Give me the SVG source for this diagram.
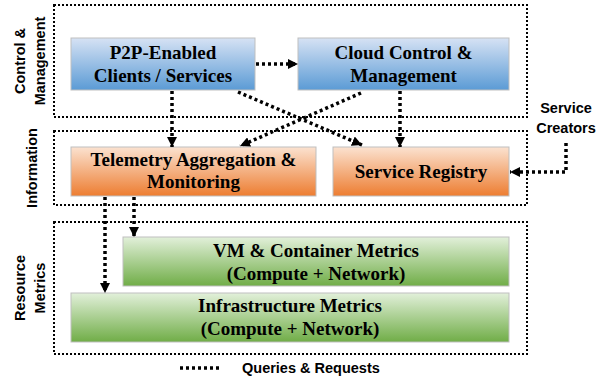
<svg xmlns="http://www.w3.org/2000/svg" width="606" height="380" viewBox="0 0 606 380">
<style>
.grp{fill:none;stroke:#000;stroke-width:2;stroke-dasharray:2 2}
.node{stroke:#bfbfbf;stroke-width:1}
.nt{font-weight:bold;font-size:19px;fill:#000;text-anchor:middle}
.lbl{font-family:"Liberation Sans",Arial,sans-serif;font-weight:bold;font-size:14.5px;fill:#000;text-anchor:middle}
.con{fill:none;stroke:#000;stroke-width:3.5;stroke-dasharray:3 3}
</style>
<defs>
<linearGradient id="gb" x1="0" y1="0" x2="0" y2="1"><stop offset="0" stop-color="#d6e2f4"/><stop offset="1" stop-color="#5b9bd5"/></linearGradient>
<linearGradient id="go" x1="0" y1="0" x2="0" y2="1"><stop offset="0" stop-color="#fbe2d0"/><stop offset="1" stop-color="#ed7d31"/></linearGradient>
<linearGradient id="gg" x1="0" y1="0" x2="0" y2="1"><stop offset="0" stop-color="#e2f0da"/><stop offset="1" stop-color="#70ad47"/></linearGradient>
<marker id="ah" viewBox="0 0 10 10" refX="10" refY="5" markerWidth="10" markerHeight="10" markerUnits="userSpaceOnUse" orient="auto"><path d="M0,0 L10,5 L0,10 z" fill="#000"/></marker>
</defs>

<g id="groups">
<rect class="grp" x="54" y="5" width="473" height="112"/>
<rect class="grp" x="54" y="131" width="473" height="74"/>
<rect class="grp" x="54" y="222" width="473" height="132"/>
<text class="lbl" transform="translate(25,61) rotate(-90)">Control &amp;</text>
<text class="lbl" transform="translate(45,61) rotate(-90)">Management</text>
<text class="lbl" transform="translate(37,168) rotate(-90)">Information</text>
<text class="lbl" transform="translate(25,288) rotate(-90)">Resource</text>
<text class="lbl" transform="translate(45,288) rotate(-90)">Metrics</text>
</g>

<g font-family="Liberation Serif, Times New Roman, serif">
<g id="p2p">
<rect class="node" x="71" y="38" width="184" height="52" fill="url(#gb)"/>
<text class="nt" x="163" y="59">P2P-Enabled</text>
<text class="nt" x="163" y="82">Clients / Services</text>
</g>
<g id="cloud">
<rect class="node" x="298" y="38" width="211" height="52" fill="url(#gb)"/>
<text class="nt" x="403.5" y="59">Cloud Control &amp;</text>
<text class="nt" x="403.5" y="82">Management</text>
</g>
<g id="telemetry">
<rect class="node" x="71" y="147" width="245" height="49" fill="url(#go)"/>
<text class="nt" x="193.5" y="166">Telemetry Aggregation &amp;</text>
<text class="nt" x="193.5" y="188">Monitoring</text>
</g>
<g id="registry">
<rect class="node" x="333" y="147" width="176" height="49" fill="url(#go)"/>
<text class="nt" x="421" y="178">Service Registry</text>
</g>
<g id="vm">
<rect class="node" x="123" y="237" width="386" height="49" fill="url(#gg)"/>
<text class="nt" x="316" y="257">VM &amp; Container Metrics</text>
<text class="nt" x="316" y="280">(Compute + Network)</text>
</g>
<g id="infra">
<rect class="node" x="71" y="293" width="438" height="49" fill="url(#gg)"/>
<text class="nt" x="290" y="312">Infrastructure Metrics</text>
<text class="nt" x="290" y="335">(Compute + Network)</text>
</g>
</g>
<g id="creators">
<text class="lbl" x="566" y="113">Service</text>
<text class="lbl" x="566" y="133">Creators</text>
</g>

<g id="connectors">
<line class="con" x1="256" y1="64" x2="298" y2="64" marker-end="url(#ah)"/>
<line class="con" x1="172" y1="91" x2="172" y2="147" marker-end="url(#ah)"/>
<line class="con" x1="238" y1="92" x2="362" y2="145" marker-end="url(#ah)"/>
<line class="con" x1="361" y1="93" x2="240" y2="146" marker-end="url(#ah)"/>
<line class="con" x1="400" y1="91" x2="400" y2="147" marker-end="url(#ah)"/>
<polyline class="con" points="566,143 566,172 510,172" marker-end="url(#ah)"/>
<line class="con" x1="105" y1="197" x2="105" y2="293" marker-end="url(#ah)"/>
<line class="con" x1="134" y1="197" x2="134" y2="237" marker-end="url(#ah)"/>
</g>

<g id="legend">
<line class="con" x1="180" y1="368" x2="222" y2="368"/>
<text class="lbl" x="242" y="373" style="text-anchor:start">Queries &amp; Requests</text>
</g>
</svg>
